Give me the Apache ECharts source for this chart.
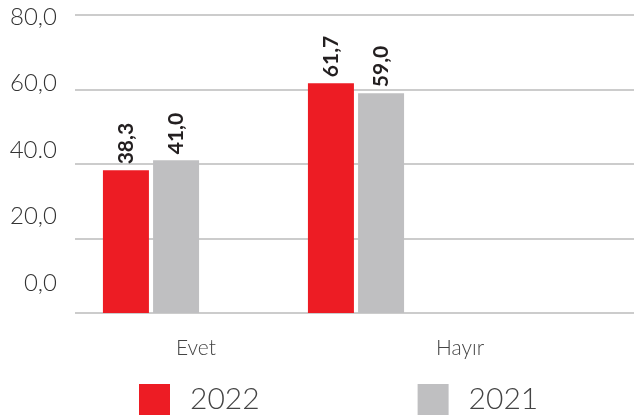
<!DOCTYPE html>
<html>
<head>
<meta charset="utf-8">
<script src="https://cdn.jsdelivr.net/npm/echarts@6/dist/echarts.min.js"></script>
<style>
  html, body { margin: 0; padding: 0; background: #fff; }
  #chart { width: 644px; height: 420px; }
</style>
</head>
<body>
<div id="chart"></div>
<script>
const categories = ['Evet', 'Hayır']
const values2022 = [38.3, 61.7]
const values2021 = [41.0, 59.0]
const yTickLabels = ['0,0', '20,0', '40.0', '60,0', '80,0']

const font = 'Lato'
const fmt = v => v.toFixed(1).replace('.', ',')

const valueLabel = {
  show: true,
  position: 'top',
  rotate: 90,
  align: 'left',
  verticalAlign: 'middle',
  distance: 6,
  fontFamily: font,
  fontWeight: 'bold',
  fontSize: 21,
  color: '#231f20',
  formatter: p => fmt(p.value)
}

const chart = echarts.init(document.getElementById('chart'))
chart.setOption({
  animation: false,
  legend: {
    left: 139,
    top: 384,
    padding: 0,
    itemWidth: 31,
    itemHeight: 31,
    itemGap: 158,
    icon: 'rect',
    textStyle: { fontFamily: font, fontWeight: 300, fontSize: 30, color: '#444', padding: [0, 0, 0, 15] },
    data: ['2022', '2021']
  },
  grid: [
    // bars
    { left: 48.5, width: 410, top: 15, height: 298 },
    // gridlines
    { left: 75, width: 559, top: 15, height: 298 },
    // axis labels
    { left: 64, width: 528, top: 17, height: 266 }
  ],
  xAxis: [
    { type: 'category', gridIndex: 0, data: categories, show: false },
    { type: 'category', gridIndex: 1, data: categories, show: false },
    {
      type: 'category', gridIndex: 2, data: categories,
      axisLine: { show: false }, axisTick: { show: false },
      axisLabel: { margin: 55, fontFamily: font, fontWeight: 300, fontSize: 21, color: '#444' }
    }
  ],
  yAxis: [
    { type: 'value', gridIndex: 0, min: 0, max: 80, interval: 20, show: false },
    {
      type: 'value', gridIndex: 1, min: 0, max: 80, interval: 20,
      axisLine: { show: false }, axisTick: { show: false }, axisLabel: { show: false },
      splitLine: { lineStyle: { color: '#cccccc', width: 2 } }
    },
    {
      type: 'value', gridIndex: 2, min: 0, max: 80, interval: 20,
      axisLine: { show: false }, axisTick: { show: false }, splitLine: { show: false },
      axisLabel: {
        margin: 7, fontFamily: font, fontWeight: 300, fontSize: 24, color: '#333',
        formatter: v => yTickLabels[v / 20]
      }
    }
  ],
  series: [
    {
      name: '2022', type: 'bar', xAxisIndex: 0, yAxisIndex: 0,
      data: values2022, barWidth: 46, barGap: '9%',
      itemStyle: { color: '#ed1c24' }, label: valueLabel
    },
    {
      name: '2021', type: 'bar', xAxisIndex: 0, yAxisIndex: 0,
      data: values2021, barWidth: 46, barGap: '9%',
      itemStyle: { color: '#bfbfc1' }, label: valueLabel
    }
  ]
})
</script>
</body>
</html>
